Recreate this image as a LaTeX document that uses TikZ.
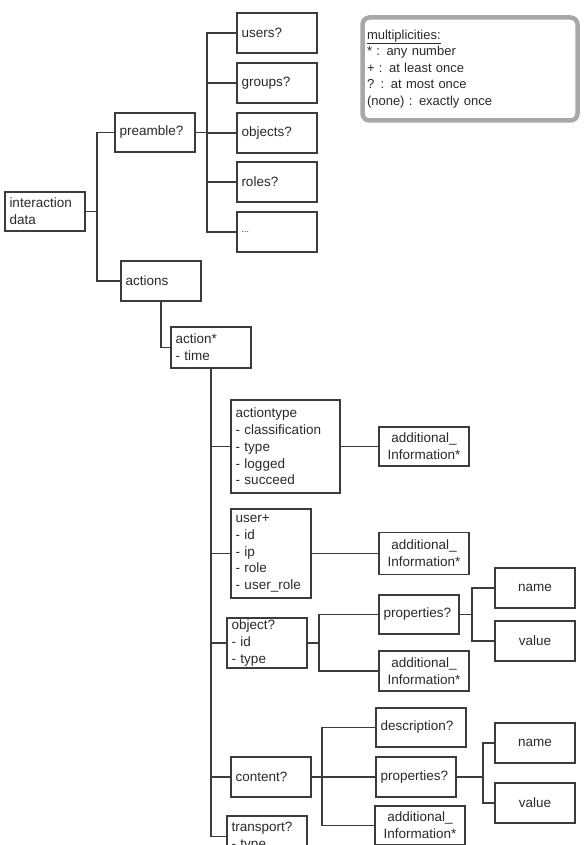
\documentclass[tikz,border=0pt]{standalone}
\usepackage{fontspec}
\setmainfont{Liberation Sans}
\definecolor{ln}{HTML}{3C3C3C}
\definecolor{txt}{HTML}{2A2A2A}
\definecolor{lg}{HTML}{A8A8A8}
\begin{document}
\begin{tikzpicture}[x=1pt,y=-1pt,
  base/.style={draw=ln, line width=1.4pt, text=txt, font=\fontsize{13.5}{16.7}\selectfont,
    inner xsep=4.5pt, inner ysep=1pt, outer sep=0pt, anchor=north west},
  lbox/.style 2 args={base, align=left, text width=#1, minimum height=#2},
  cbox/.style 2 args={base, align=center, text width=#1, minimum height=#2},
  conn/.style={draw=ln, line width=1.2pt},
  trunk/.style={draw=ln, line width=1.8pt}]
\useasboundingbox (0,0) rectangle (588,845);
\clip (0,0) rectangle (588,845);
\fill[white] (0,0) rectangle (588,845);

% preamble branch
\node[lbox={71pt}{40pt}] (users) at (237,13) {users?};
\node[lbox={71pt}{40pt}] (groups) at (237,63) {groups?};
\node[lbox={71pt}{40pt}] (objects) at (237,113) {objects?};
\node[lbox={71pt}{40pt}] (roles) at (237,162) {roles?};
\node[lbox={71pt}{40pt}] (dots) at (237,212) {\fontsize{9}{10}\selectfont ...};
\node[lbox={71pt}{39pt}] (preamble) at (115,113) {preamble?};
\node[lbox={71pt}{39pt}] (idata) at (5,192) {interaction\\data};
\node[lbox={71pt}{40pt}] (actions) at (121,261) {actions};

% legend
\node[draw=lg, line width=4.5pt, rounded corners=7pt, anchor=north west, outer sep=0pt,
  inner xsep=4.5pt, align=left, text width=206pt, minimum height=103pt,
  font=\fontsize{13}{16.6}\selectfont, text=txt] (legend) at (362.5,17.5)
  {\underline{multiplicities:}\\{}* : any number\\{}+ : at least once\\{}? : at most once\\{}(none) : exactly once};

% actions branch
\node[lbox={71pt}{41pt}] (action) at (171,327) {action*\\- time};
\node[lbox={100pt}{93pt}] (actiontype) at (231,400) {actiontype\\- classification\\- type\\- logged\\- succeed};
\node[cbox={81pt}{39pt}] (add1) at (379,427) {additional\_\\Information*};
\node[lbox={71pt}{89pt}] (user) at (231,509) {user+\\- id\\- ip\\- role\\- user\_role};
\node[cbox={81pt}{42pt}] (add2) at (379,532.5) {additional\_\\Information*};
\node[lbox={71pt}{50pt}] (object) at (227,618) {object?\\- id\\- type};
\node[lbox={71pt}{39pt}] (props1) at (379,595) {properties?};
\node[cbox={81pt}{40pt}] (add3) at (379,651) {additional\_\\Information*};
\node[cbox={71pt}{40pt}] (name1) at (495,568) {name};
\node[cbox={71pt}{40pt}] (value1) at (495,621) {value};
\node[lbox={71pt}{40pt}] (content) at (231,757) {content?};
\node[lbox={81pt}{39pt}] (desc) at (376,708) {description?};
\node[lbox={71pt}{40pt}] (props2) at (376,757) {properties?};
\node[cbox={81pt}{39pt}] (add4) at (375,806) {additional\_\\Information*};
\node[cbox={71pt}{40pt}] (name2) at (495,723) {name};
\node[cbox={71pt}{40pt}] (value2) at (495,783) {value};
\node[lbox={71pt}{41pt}] (transport) at (227,816) {transport?\\- type};

% connectors
\coordinate (f1) at (97,211.5);
\draw[conn] (idata.east) -- (f1);
\draw[conn] (preamble.west) -| (f1) |- (actions.west);
\coordinate (f2) at (207,132.5);
\draw[conn] (preamble.east) -- (f2);
\draw[conn] (users.west) -| (f2) |- (dots.west);
\foreach \n in {groups,objects,roles} \draw[conn] (\n.west) -- (\n.west -| f2);

\draw[conn] (actions.south) |- (action.west);
\draw[trunk] (action.south) |- (transport.west);
\foreach \n in {actiontype,user,object,content} \draw[conn] (\n.west) -- (\n.west -| action.south);

\draw[conn] (actiontype.east) -- (add1.west);
\draw[conn] (user.east) -- (add2.west);

\coordinate (f3) at (319,643);
\draw[conn] (object.east) -- (f3);
\draw[conn] (props1.west) -| (f3) |- (add3.west);
\coordinate (f4) at (472,614.5);
\draw[conn] (props1.east) -- (f4);
\draw[conn] (name1.west) -| (f4) |- (value1.west);

\coordinate (f5) at (322,777);
\draw[conn] (content.east) -- (f5);
\draw[conn] (desc.west) -| (f5) |- (add4.west);
\draw[conn] (props2.west) -- (f5);
\coordinate (f6) at (483,777);
\draw[conn] (props2.east) -- (f6);
\draw[conn] (name2.west) -| (f6) |- (value2.west);
\end{tikzpicture}
\end{document}
